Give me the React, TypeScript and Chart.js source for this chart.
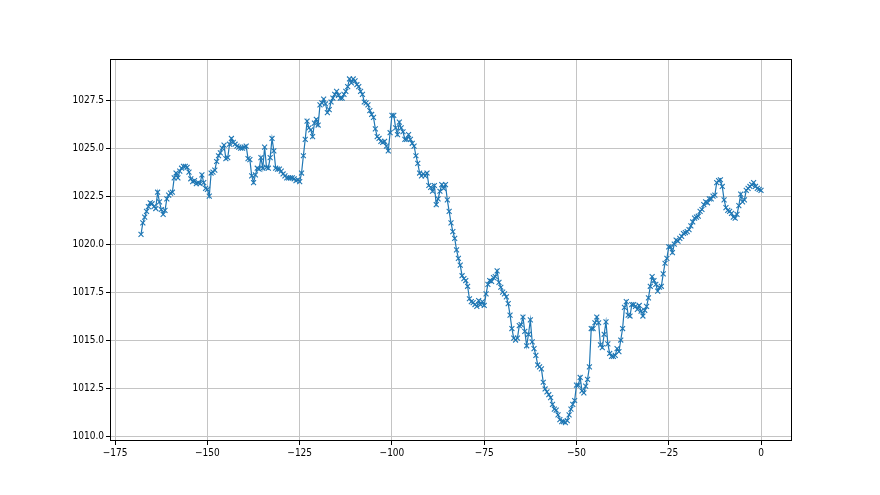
import React, { useEffect, useRef } from "react";
import { Chart, registerables } from "chart.js";

Chart.register(...registerables);

// Pressure readings (hPa), half-hourly, ending at hour 0
const pressure = [
  1020.5, 1021.1, 1021.4, 1021.7, 1021.95, 1022.15, 1022.1, 1021.95, 1021.85, 1022.7,
  1022.2, 1021.8, 1021.55, 1021.75, 1022.35, 1022.55, 1022.65, 1022.7, 1023.45, 1023.7,
  1023.45, 1023.8, 1023.95, 1024.05, 1024.05, 1024.0, 1023.75, 1023.4, 1023.25, 1023.3,
  1023.15, 1023.2, 1023.15, 1023.6, 1023.2, 1022.9, 1022.85, 1022.5, 1023.7, 1023.75,
  1023.85, 1024.3, 1024.6, 1024.75, 1025.0, 1025.15, 1024.45, 1024.5, 1025.2, 1025.5,
  1025.3, 1025.2, 1025.1, 1025.05, 1025.0, 1025.0, 1025.05, 1025.1, 1024.45, 1024.4,
  1023.55, 1023.2, 1023.6, 1023.95, 1023.9, 1024.5, 1023.95, 1025.05, 1024.0, 1023.95,
  1024.5, 1025.5, 1024.85, 1023.95, 1023.9, 1023.9, 1023.8, 1023.65, 1023.55, 1023.45,
  1023.45, 1023.45, 1023.45, 1023.4, 1023.3, 1023.35, 1023.25, 1023.7, 1024.6, 1025.45,
  1026.4, 1026.05, 1025.95, 1025.6, 1026.3, 1026.5, 1026.2, 1027.25, 1027.35, 1027.55,
  1027.3, 1026.85, 1027.0, 1027.4, 1027.6, 1027.8, 1027.95, 1027.75, 1027.6, 1027.6,
  1027.8, 1027.95, 1028.2, 1028.6, 1028.4, 1028.6, 1028.5, 1028.3, 1028.2, 1027.95,
  1027.8, 1027.4, 1027.35, 1027.25, 1026.95, 1026.75, 1026.6, 1026.0, 1025.6, 1025.5,
  1025.35, 1025.3, 1025.35, 1025.1, 1024.85, 1025.8, 1026.7, 1026.7, 1026.05, 1025.7,
  1026.35, 1026.05, 1025.85, 1025.45, 1025.45, 1025.7, 1025.45, 1025.25, 1025.1, 1024.6,
  1024.2, 1023.7, 1023.55, 1023.65, 1023.55, 1023.7, 1023.05, 1022.95, 1022.75, 1023.05,
  1022.05, 1022.35, 1022.75, 1023.1, 1022.9, 1023.1, 1022.3, 1021.7, 1021.1, 1020.65,
  1020.3, 1019.7, 1019.25, 1018.9, 1018.35, 1018.2, 1018.1, 1017.8, 1017.15, 1017.0,
  1016.95, 1016.85, 1016.75, 1017.05, 1016.85, 1017.0, 1016.8, 1017.4, 1017.9, 1018.1,
  1018.05, 1018.25, 1018.3, 1018.6, 1018.0, 1017.75, 1017.5, 1017.4, 1017.25, 1016.9,
  1016.3, 1015.6, 1015.1, 1015.0, 1015.1, 1015.75, 1015.8, 1016.2, 1015.45, 1014.7,
  1015.3, 1016.05, 1014.9, 1014.55, 1014.2, 1013.7, 1013.6, 1013.5, 1012.8, 1012.45,
  1012.3, 1012.15, 1012.0, 1011.65, 1011.4, 1011.35, 1011.1, 1010.85, 1010.75, 1010.75,
  1010.7, 1010.8, 1011.1, 1011.4, 1011.65, 1011.85, 1012.65, 1012.65, 1013.05, 1012.35,
  1012.25, 1012.6, 1012.95, 1013.6, 1015.6, 1015.6, 1015.9, 1016.2, 1015.9, 1014.75,
  1014.6, 1015.3, 1015.95, 1014.8, 1014.3, 1014.15, 1014.15, 1014.2, 1014.55, 1014.4,
  1015.0, 1015.6, 1016.7, 1017.0, 1016.3, 1016.25, 1016.85, 1016.85, 1016.75, 1016.6,
  1016.8, 1016.5, 1016.25, 1016.55, 1016.75, 1017.2, 1017.8, 1018.3, 1018.1, 1017.9,
  1017.55, 1017.75, 1017.8, 1018.45, 1019.0, 1019.25, 1019.85, 1019.85, 1019.55, 1020.0,
  1020.2, 1020.15, 1020.3, 1020.4, 1020.55, 1020.6, 1020.65, 1020.75, 1020.95, 1021.15,
  1021.35, 1021.4, 1021.45, 1021.7, 1021.8, 1022.05, 1022.2, 1022.15, 1022.35, 1022.35,
  1022.5, 1022.55, 1023.2, 1023.3, 1023.35, 1023.0, 1022.3, 1021.9, 1021.75, 1021.7,
  1021.6, 1021.4, 1021.35, 1021.55, 1022.0, 1022.6, 1022.2, 1022.3, 1022.8, 1022.9,
  1023.0, 1023.1, 1023.2, 1023.0, 1022.9, 1022.85, 1022.8,
];

const stepHours = 0.5;
const hours = pressure.map((_, i) => (i - (pressure.length - 1)) * stepHours);

const xTicks = [-175, -150, -125, -100, -75, -50, -25, 0];
const yTicks = [1010, 1012.5, 1015, 1017.5, 1020, 1022.5, 1025, 1027.5];

const FONT = "'Liberation Sans Narrow', 'DejaVu Sans Condensed', 'Liberation Sans', sans-serif";

const framePlugin = {
  id: "frame",
  afterDraw(chart: any) {
    const { ctx, chartArea: a } = chart;
    ctx.save();
    ctx.strokeStyle = "#000";
    ctx.lineWidth = 1;
    const l = Math.round(a.left) + 0.5;
    const t = Math.round(a.top) + 0.5;
    const r = Math.round(a.right) - 0.5;
    const b = Math.round(a.bottom) - 0.5;
    ctx.strokeRect(l, t, r - l, b - t);
    ctx.restore();
  },
};

export default function App() {
  const ref = useRef<HTMLCanvasElement>(null);
  useEffect(() => {
    if (!ref.current) return;
    const chart = new Chart(ref.current, {
      type: "line",
      data: {
        datasets: [
          {
            data: hours.map((h, i) => ({ x: h, y: pressure[i] })),
            borderColor: "#1f77b4",
            backgroundColor: "#1f77b4",
            borderWidth: 1.2,
            pointStyle: "crossRot",
            pointRadius: 3.5,
            pointBorderWidth: 1.1,
            pointBorderColor: "#1f77b4",
            tension: 0,
            fill: false,
          },
        ],
      },
      options: {
        responsive: false,
        animation: false,
        devicePixelRatio: 1,
        layout: { padding: { top: 59, right: 88, left: 0, bottom: 0 } },
        plugins: { legend: { display: false }, tooltip: { enabled: false } },
        scales: {
          x: {
            type: "linear",
            min: -176.4,
            max: 8.4,
            afterBuildTicks: (s: any) => {
              s.ticks = xTicks.map((value) => ({ value }));
            },
            afterFit: (s: any) => {
              s.height = 54;
            },
            border: { display: false },
            grid: { color: "#c4c4c4", lineWidth: 1, tickColor: "#000", tickLength: 4 },
            ticks: {
              autoSkip: false,
              maxRotation: 0,
              padding: 2,
              color: "#000",
              font: { family: FONT, size: 10 },
              callback: (v: any) => (Number(v) < 0 ? "\u2212" + Math.abs(Number(v)) : String(v)),
            },
          },
          y: {
            type: "linear",
            min: 1009.74,
            max: 1029.64,
            afterBuildTicks: (s: any) => {
              s.ticks = yTicks.map((value) => ({ value }));
            },
            afterFit: (s: any) => {
              s.width = 110;
            },
            border: { display: false },
            grid: { color: "#c4c4c4", lineWidth: 1, tickColor: "#000", tickLength: 4 },
            ticks: {
              autoSkip: false,
              padding: 2,
              color: "#000",
              font: { family: FONT, size: 10 },
              callback: (v: any) => Number(v).toFixed(1),
            },
          },
        },
      },
      plugins: [framePlugin],
    } as any);
    return () => chart.destroy();
  }, []);
  return (
    <div style={{ position: "fixed", left: 0, top: 0, width: 880, height: 495, background: "#fff" }}>
      <canvas ref={ref} width={880} height={495} style={{ width: 880, height: 495 }} />
    </div>
  );
}
